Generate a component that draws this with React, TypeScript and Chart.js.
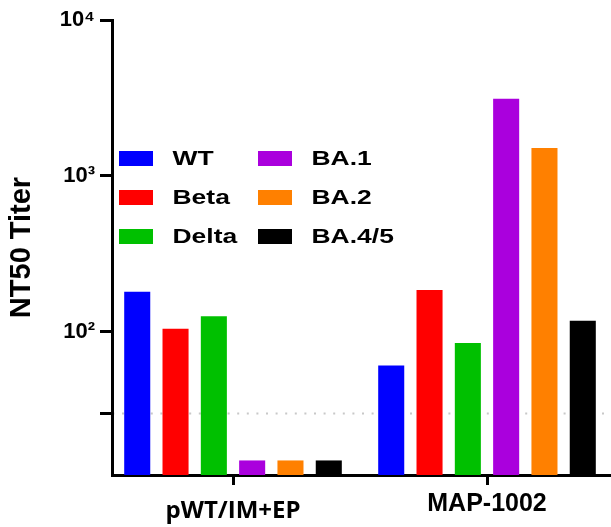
import React, { useEffect, useRef } from "react";
import { Chart, registerables } from "chart.js";

Chart.register(...registerables);

// ---- data ----
const categories = ["pWT/IM+EP", "MAP-1002"];
const seriesLabels = ["WT", "Beta", "Delta", "BA.1", "BA.2", "BA.4/5"];
const wtValues = [181, 61];
const betaValues = [105, 186];
const deltaValues = [126, 85];
const ba1Values = [15, 3130];
const ba2Values = [15, 1512];
const ba45Values = [15, 118];
const seriesColors = ["#0000FF", "#FF0000", "#00C000", "#AA00DD", "#FF8000", "#000000"];
const yTickValues = [30, 100, 1000, 10000];
const yTickLabels = ["", "10²", "10³", "10⁴"];
const detectionLimit = 30;
const yMin = 12.1;
const yMax = 10000;

const FONT = '"Liberation Sans", Arial, Helvetica, sans-serif';

const seriesValues = [wtValues, betaValues, deltaValues, ba1Values, ba2Values, ba45Values];

const lodPlugin = {
  id: "lodLine",
  beforeDatasetsDraw(chart: any) {
    const { ctx, chartArea } = chart;
    const y = chart.scales.y.getPixelForValue(detectionLimit);
    ctx.save();
    ctx.strokeStyle = "#c8c8c8";
    ctx.lineWidth = 2;
    ctx.setLineDash([2, 7.6]);
    ctx.lineDashOffset = -8;
    ctx.beginPath();
    ctx.moveTo(chartArea.left + 2, y);
    ctx.lineTo(chartArea.right, y);
    ctx.stroke();
    ctx.restore();
  },
};

const legendPlugin = {
  id: "insideLegend",
  afterDatasetsDraw(chart: any) {
    const { ctx, chartArea } = chart;
    const ds = chart.data.datasets;
    const x0 = chartArea.left + 7;
    const y0 = 158.5;
    const colW = 139;
    const rowH = 39;
    const stretch = 1.26;
    ctx.save();
    ctx.font = `bold 21px ${FONT}`;
    ctx.textBaseline = "middle";
    ctx.textAlign = "left";
    ds.forEach((d: any, i: number) => {
      const col = Math.floor(i / 3);
      const row = i % 3;
      const x = x0 + col * colW;
      const y = y0 + row * rowH;
      ctx.fillStyle = d.backgroundColor;
      ctx.fillRect(x, y - 7.5, 34, 15);
      ctx.fillStyle = "#000";
      ctx.save();
      ctx.translate(x + 53.5, y + 1);
      ctx.scale(stretch, 1);
      ctx.fillText(d.label, 0, 0);
      ctx.restore();
    });
    ctx.restore();
  },
};

export default function App() {
  const canvasRef = useRef<HTMLCanvasElement | null>(null);

  useEffect(() => {
    if (!canvasRef.current) return;
    const chart = new Chart(canvasRef.current, {
      type: "bar",
      data: {
        datasets: seriesLabels.map((label, i) => ({
          label,
          data: seriesValues[i].map((v, j) => ({ x: j, y: v })),
          backgroundColor: seriesColors[i],
          borderWidth: 0,
          categoryPercentage: 0.905,
          barPercentage: 0.68,
        })),
      },
      options: {
        responsive: false,
        animation: false,
        layout: { padding: { top: 20, left: 0, right: 0, bottom: 0 } },
        plugins: {
          legend: { display: false },
          tooltip: { enabled: false },
        },
        scales: {
          x: {
            type: "linear",
            min: -0.4764,
            max: 1.5,
            offset: false,
            afterBuildTicks: (scale: any) => {
              scale.ticks = categories.map((_, i) => ({ value: i }));
            },
            afterFit: (scale: any) => {
              scale.height = 52;
            },
            grid: {
              offset: false,
              drawOnChartArea: false,
              drawTicks: true,
              tickLength: 10,
              tickWidth: 3,
              tickColor: "#000",
            },
            border: { display: true, color: "#000", width: 3 },
            ticks: {
              color: "#000",
              padding: 4,
              maxRotation: 0,
              autoSkip: false,
              callback: (v: any) => categories[Math.round(Number(v))] ?? "",
              font: (ctx: any) =>
                ctx.index === 0
                  ? { family: '"Open Sans", sans-serif', size: 24, weight: "bold", lineHeight: 1.83 }
                  : { family: FONT, size: 25, weight: "bold", lineHeight: 1.2 },
            },
          },
          y: {
            type: "logarithmic",
            min: yMin,
            max: yMax,
            afterBuildTicks: (scale: any) => {
              scale.ticks = yTickValues.map((v) => ({ value: v }));
            },
            afterFit: (scale: any) => {
              scale.width = 112;
            },
            grid: {
              drawOnChartArea: false,
              drawTicks: true,
              tickLength: 12,
              tickWidth: 3,
              tickColor: "#000",
            },
            border: { display: true, color: "#000", width: 3 },
            ticks: {
              color: "#000",
              padding: 5,
              autoSkip: false,
              font: { family: FONT, size: 22, weight: "bold" },
              callback: (v: any) => {
                const i = yTickValues.indexOf(Number(v));
                return i >= 0 ? yTickLabels[i] : "";
              },
            },
            title: {
              display: true,
              text: "NT50 Titer",
              color: "#000",
              font: { family: FONT, size: 29, weight: "bold", lineHeight: 1.2 },
              padding: { top: 5, bottom: 0 },
            },
          },
        },
      },
      plugins: [lodPlugin, legendPlugin],
    } as any);
    return () => chart.destroy();
  }, []);

  return (
    <div
      style={{
        position: "fixed",
        left: 0,
        top: 0,
        width: 611,
        height: 527,
        overflow: "hidden",
        background: "#fff",
      }}
    >
      <canvas ref={canvasRef} width={614} height={527} style={{ display: "block" }} />
    </div>
  );
}
